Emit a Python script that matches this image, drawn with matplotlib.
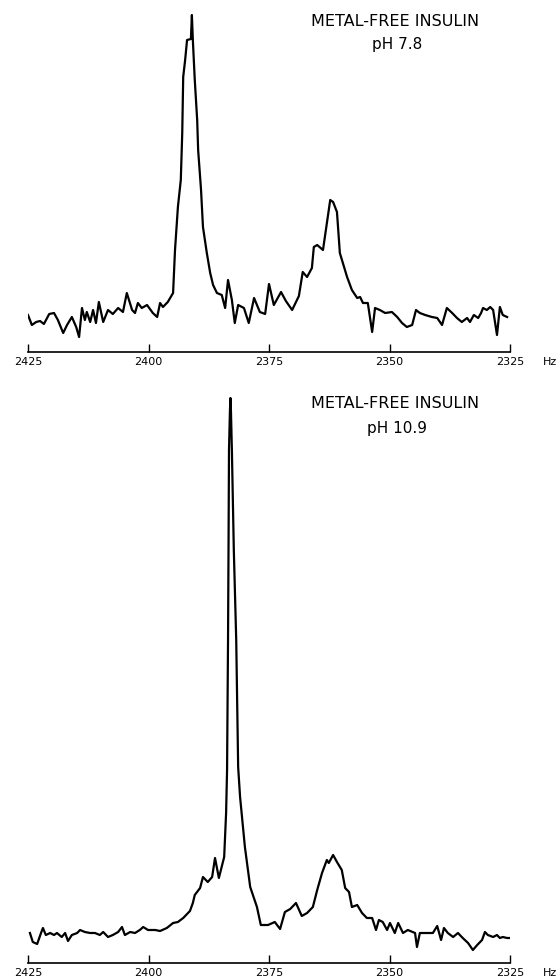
import matplotlib
matplotlib.use("Agg")
import matplotlib.pyplot as plt

# ---- data (frequency in Hz, intensity in arbitrary units above baseline axis) ----
freq_ph78 = [2425.0, 2424.2, 2423.3, 2422.5, 2421.7, 2420.6, 2419.6, 2418.8, 2417.7, 2416.9,
             2415.9, 2415.0, 2414.4, 2413.8, 2413.2, 2412.8, 2412.1, 2411.5, 2410.9, 2410.3,
             2409.4, 2408.4, 2407.4, 2406.3, 2405.3, 2404.5, 2403.4, 2402.8, 2402.2, 2401.4,
             2400.3, 2399.1, 2398.2, 2397.6, 2397.0, 2396.0, 2394.9, 2394.5, 2393.9, 2393.3,
             2393.0, 2392.8, 2392.4, 2392.0, 2391.2, 2391.0, 2390.8, 2390.4, 2389.9, 2389.7,
             2389.1, 2388.7, 2387.9, 2387.2, 2386.6, 2385.8, 2384.8, 2384.1, 2383.5, 2382.7,
             2382.1, 2381.4, 2380.2, 2379.2, 2378.1, 2376.9, 2375.8, 2375.0, 2374.0, 2372.5,
             2371.5, 2370.2, 2368.8, 2368.0, 2367.1, 2366.1, 2365.7, 2365.0, 2363.8, 2363.2,
             2362.3, 2361.7, 2360.9, 2360.3, 2358.8, 2357.8, 2356.7, 2356.1, 2355.5, 2354.5,
             2353.6, 2353.0, 2352.0, 2350.9, 2349.5, 2348.4, 2347.4, 2346.4, 2345.3, 2344.5,
             2343.7, 2342.6, 2341.2, 2340.1, 2339.1, 2338.1, 2337.0, 2336.0, 2335.0, 2333.9,
             2333.3, 2332.5, 2331.6, 2331.0, 2330.6, 2329.8, 2329.1, 2328.5, 2327.7, 2327.1,
             2326.5, 2325.6]
int_ph78 = [37, 27, 30, 31, 28, 38, 39, 32, 19, 27,
            35, 25, 15, 44, 32, 40, 30, 42, 29, 50,
            30, 42, 38, 44, 40, 59, 42, 39, 49, 44,
            47, 39, 35, 49, 45, 50, 59, 102, 145, 172,
            219, 275, 292, 312, 313, 337, 312, 272, 232, 202,
            162, 125, 99, 79, 67, 59, 57, 44, 72, 52,
            29, 47, 44, 29, 54, 40, 38, 68, 47, 60,
            51, 42, 56, 80, 75, 84, 105, 107, 102, 122,
            152, 150, 140, 99, 75, 62, 54, 55, 49, 49,
            20, 44, 42, 39, 40, 35, 29, 25, 27, 42,
            39, 37, 35, 34, 27, 44, 39, 34, 30, 34,
            30, 37, 34, 39, 44, 42, 45, 42, 17, 45,
            37, 35]

freq_ph109 = [2424.6, 2424.0, 2423.1, 2422.3, 2421.9, 2421.3, 2420.4, 2419.6, 2419.0, 2418.0,
              2417.3, 2416.7, 2415.9, 2414.8, 2414.2, 2413.2, 2412.1, 2411.1, 2410.1, 2409.4,
              2408.4, 2407.4, 2406.3, 2405.5, 2404.9, 2403.8, 2402.8, 2401.8, 2401.1, 2400.1,
              2398.6, 2397.6, 2396.2, 2394.9, 2393.9, 2392.8, 2391.4, 2390.8, 2390.4, 2389.3,
              2388.7, 2387.7, 2386.8, 2386.2, 2385.4, 2384.3, 2383.9, 2383.7, 2383.5, 2383.4,
              2383.3, 2383.1, 2383.0, 2382.9, 2382.7, 2382.3, 2381.8, 2381.4, 2381.0, 2380.0,
              2378.9, 2377.5, 2376.7, 2375.2, 2373.8, 2372.7, 2371.7, 2370.6, 2369.4, 2368.2,
              2367.1, 2365.9, 2365.0, 2364.0, 2363.0, 2362.6, 2361.7, 2360.9, 2359.9, 2359.2,
              2358.4, 2357.8, 2356.7, 2355.7, 2354.7, 2353.6, 2352.8, 2352.2, 2351.4, 2350.5,
              2349.9, 2348.9, 2348.2, 2347.2, 2346.2, 2344.7, 2344.3, 2343.7, 2342.2, 2341.0,
              2340.1, 2339.3, 2338.7, 2337.9, 2336.8, 2335.8, 2334.8, 2333.7, 2332.7, 2331.8,
              2330.8, 2330.2, 2329.6, 2328.5, 2327.7, 2327.1, 2326.5, 2325.6, 2325.0]
int_ph109 = [30, 21, 19, 30, 35, 28, 30, 28, 30, 26,
             30, 22, 28, 30, 33, 31, 30, 30, 28, 31,
             26, 28, 31, 36, 28, 31, 30, 33, 36, 33,
             33, 32, 35, 40, 41, 45, 52, 60, 68, 75,
             86, 81, 86, 105, 85, 106, 150, 193, 323, 413,
             513, 553, 565, 553, 513, 413, 323, 196, 166, 116,
             76, 56, 38, 38, 41, 34, 51, 54, 60, 47,
             50, 56, 73, 90, 103, 100, 108, 101, 93, 75,
             71, 56, 58, 50, 45, 45, 33, 43, 41, 33,
             40, 30, 40, 30, 33, 30, 16, 30, 30, 30,
             37, 23, 35, 30, 26, 30, 25, 20, 13, 18,
             23, 31, 28, 26, 28, 25, 26, 25, 25]

tick_values = [2425, 2400, 2375, 2350, 2325]
tick_labels = ["2425", "2400", "2375", "2350", "2325"]
titles = ["METAL-FREE INSULIN", "METAL-FREE INSULIN"]
subtitles = ["pH 7.8", "pH 10.9"]

W, H = 558, 977
fig = plt.figure(figsize=(W / 100, H / 100), dpi=100)
fig.patch.set_facecolor("white")

def px_axes(x0, x1, ytop, ybot):
    return fig.add_axes([x0 / W, 1 - ybot / H, (x1 - x0) / W, (ybot - ytop) / H])

panels = [
    (freq_ph78, int_ph78, 0, 352, 352),
    (freq_ph109, int_ph109, 380, 963, 583),
]

for i, (fq, iv, ytop, ybot, ymax) in enumerate(panels):
    ax = px_axes(28, 510, ytop, ybot)
    ax.plot(fq, iv, color="black", lw=1.6, solid_joinstyle="round")
    ax.set_xlim(2425, 2325)
    ax.set_ylim(0, ymax)
    for s in ["top", "left", "right"]:
        ax.spines[s].set_visible(False)
    ax.spines["bottom"].set_linewidth(1.2)
    ax.set_yticks([])
    ax.set_xticks(tick_values)
    ax.set_xticklabels(tick_labels, fontsize=8)
    ax.tick_params(axis="x", direction="in", length=6, width=1.0, pad=3.5)
    ax.patch.set_alpha(0)
    fig.text(550 / W, 1 - (ybot + 5) / H, "Hz", fontsize=8, ha="center", va="top")

fig.text(395 / W, 1 - 21 / H, titles[0], fontsize=11.5, ha="center", va="center")
fig.text(397 / W, 1 - 45 / H, subtitles[0], fontsize=11, ha="center", va="center")
fig.text(395 / W, 1 - 404 / H, titles[1], fontsize=11.5, ha="center", va="center")
fig.text(397 / W, 1 - 428 / H, subtitles[1], fontsize=11, ha="center", va="center")

fig.savefig("out.png", dpi=100, facecolor="white")
